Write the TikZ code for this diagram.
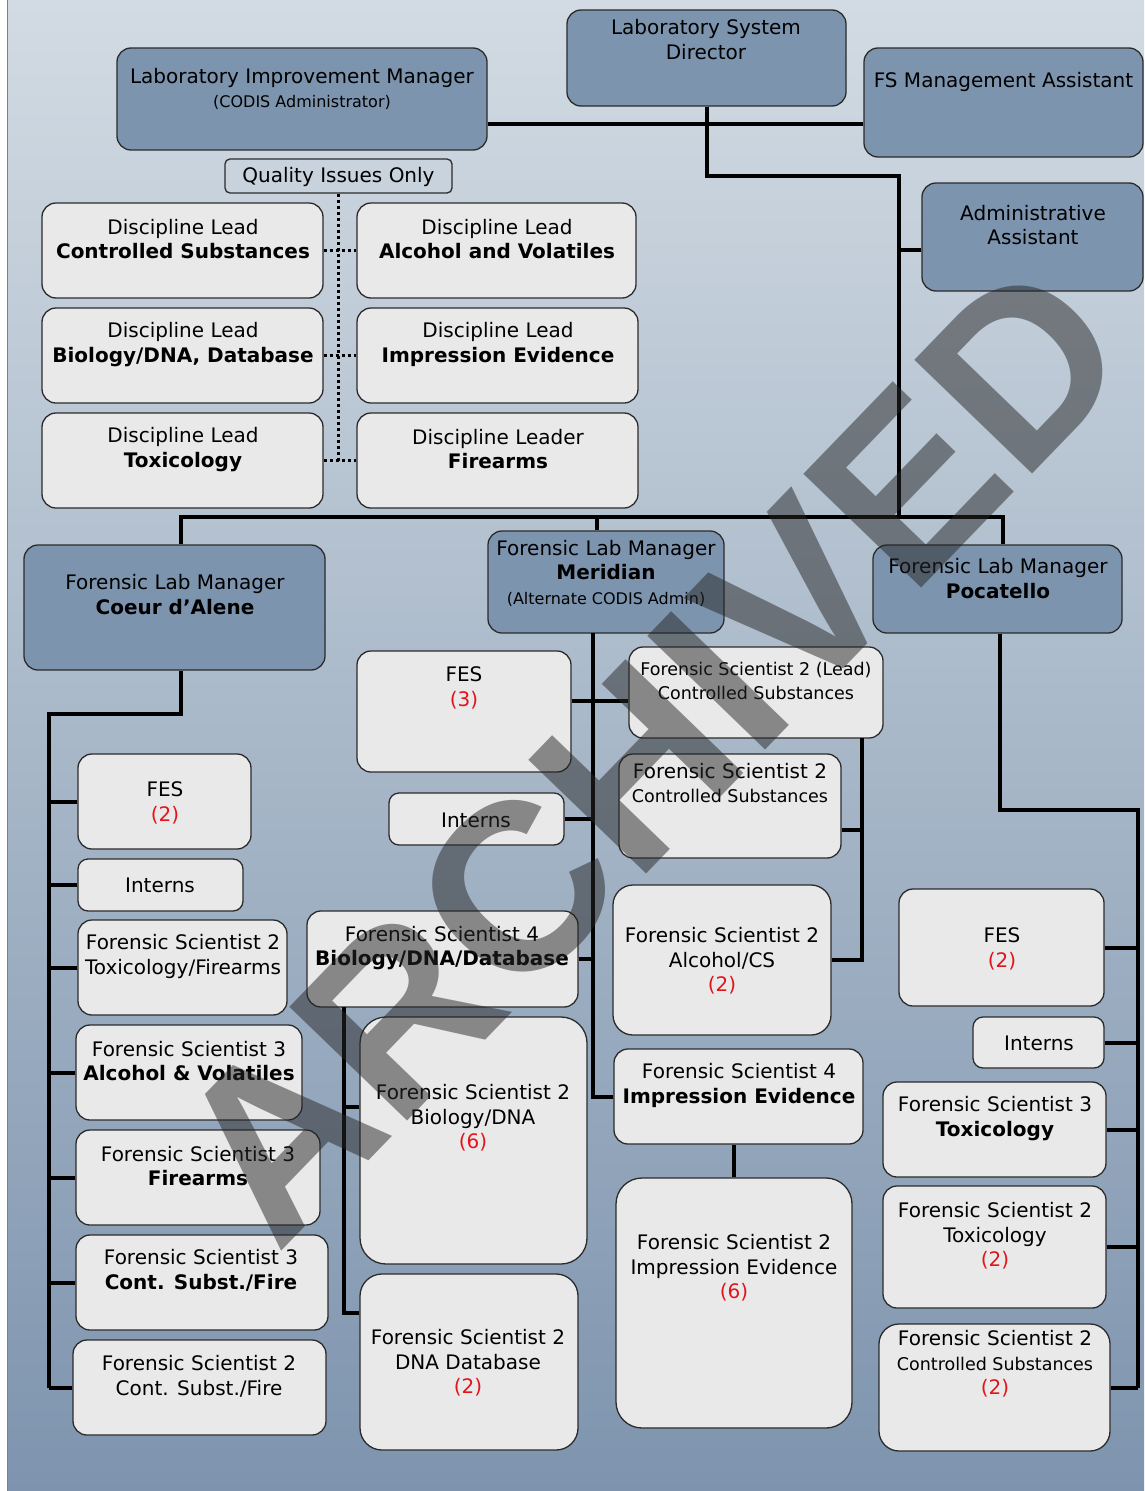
\documentclass[tikz,border=0pt]{standalone}
\usepackage{fontspec}
\setmainfont{DejaVu Sans}
\newfontfamily\wmfont{Liberation Sans}
\usepackage{xcolor}
\usepackage{tikz}

\definecolor{bgtop}{HTML}{D2DBE3}
\definecolor{bgbot}{HTML}{7E94AE}
\definecolor{boxgray}{HTML}{E9E9E9}
\definecolor{mgrblue}{HTML}{7D94AE}
\definecolor{boxline}{HTML}{2B2B2B}
\definecolor{cntred}{HTML}{E3141B}
\newcommand{\cnt}[1]{\textcolor{cntred}{(#1)}}
\newcommand{\sm}{\fontsize{17.5}{22}\selectfont}
\newcommand{\xs}{\fontsize{16}{20}\selectfont}

\begin{document}
\begin{tikzpicture}[x=1pt, y=-1pt,
  lbox/.style={rectangle, draw=boxline, fill=boxgray, rounded corners=14pt, line width=1.3pt, inner sep=0pt},
  mbox/.style={lbox, fill=mgrblue},
  qbox/.style={rectangle, draw=boxline, rounded corners=5pt, line width=1.3pt, inner sep=0pt},
  txt/.style={align=center, inner sep=0pt, font=\fontsize{20}{24.5}\selectfont},
  wire/.style={line width=4pt},
  dots/.style={line width=3.5pt, dash pattern=on 3.5pt off 2.5pt},
  wmark/.style={font=\wmfont\bfseries\fontsize{238}{238}\selectfont, text=black!85, text opacity=0.5, rotate=46}
]
\useasboundingbox (0,0) rectangle (1144,1491);

% Background
\fill[top color=bgtop, bottom color=bgbot] (7,0) rectangle (1144,1491);
\fill[white] (0,0) rectangle (7,1491);
\draw[gray, line width=1pt] (7,0) -- (7,1491);

% Top management
\node[mbox, minimum width=279pt, minimum height=96pt] (dir) at (706.5,58) {};
\node[txt] (dir-t) at (706,39.5) {Laboratory System\\Director};
\node[mbox, minimum width=370pt, minimum height=102pt] (lim) at (302,99) {};
\node[txt] (lim-t) at (302,89) {Laboratory Improvement Manager\\{\xs (CODIS Administrator)}};
\node[mbox, minimum width=279pt, minimum height=109pt] (fsma) at (1003.5,102.5) {};
\node[txt] (fsma-t) at (1003.5,82) {FS Management Assistant};
\node[mbox, minimum width=221pt, minimum height=108pt] (admin) at (1032.5,237) {};
\node[txt] (admin-t) at (1033,225) {Administrative\\Assistant};
\node[qbox, minimum width=227pt, minimum height=34pt] (quality) at (338.5,176) {};
\node[txt] (quality-t) at (338.5,177) {Quality Issues Only};

% Discipline leads
\node[lbox, minimum width=281pt, minimum height=95pt] (dlcs) at (182.5,250.5) {};
\node[txt] (dlcs-t) at (183,239) {Discipline Lead\\\textbf{Controlled Substances}};
\node[lbox, minimum width=279pt, minimum height=95pt] (dlav) at (496.5,250.5) {};
\node[txt] (dlav-t) at (497,239) {Discipline Lead\\\textbf{Alcohol and Volatiles}};
\node[lbox, minimum width=281pt, minimum height=95pt] (dlbio) at (182.5,355.5) {};
\node[txt] (dlbio-t) at (183,344.5) {Discipline Lead\\\textbf{Biology/DNA, Database}};
\node[lbox, minimum width=281pt, minimum height=95pt] (dlie) at (497.5,355.5) {};
\node[txt] (dlie-t) at (498,344.5) {Discipline Lead\\\textbf{Impression Evidence}};
\node[lbox, minimum width=281pt, minimum height=95pt] (dltox) at (182.5,460.5) {};
\node[txt] (dltox-t) at (183,449.5) {Discipline Lead\\\textbf{Toxicology}};
\node[lbox, minimum width=281pt, minimum height=95pt] (dlfa) at (497.5,460.5) {};
\node[txt] (dlfa-t) at (498,449) {Discipline Leader\\\textbf{Firearms}};

% Lab managers
\node[mbox, minimum width=301pt, minimum height=125pt] (mcda) at (174.5,607.5) {};
\node[txt] (mcda-t) at (175,594.5) {Forensic Lab Manager\\\textbf{Coeur d’Alene}};
\node[mbox, minimum width=236pt, minimum height=102pt] (mmer) at (606,582) {};
\node[txt] (mmer-t) at (606,573) {Forensic Lab Manager\\\textbf{Meridian}\\{\xs (Alternate CODIS Admin)}};
\node[mbox, minimum width=249pt, minimum height=88pt] (mpoc) at (997.5,589) {};
\node[txt] (mpoc-t) at (998,578.5) {Forensic Lab Manager\\\textbf{Pocatello}};

% Coeur d'Alene staff
\node[lbox, minimum width=173pt, minimum height=95pt] (cfes) at (164.5,801.5) {};
\node[txt] (cfes-t) at (165,803) {FES\\\cnt{2}};
\node[lbox, minimum width=165pt, minimum height=52pt, rounded corners=10pt] (cint) at (160.5,885) {};
\node[txt] (cint-t) at (160,885) {Interns};
\node[lbox, minimum width=209pt, minimum height=95pt] (cfstf) at (182.5,967.5) {};
\node[txt] (cfstf-t) at (183,956.5) {Forensic Scientist 2\\Toxicology/Firearms};
\node[lbox, minimum width=226pt, minimum height=95pt] (cfsav) at (189,1072.5) {};
\node[txt] (cfsav-t) at (189,1061) {Forensic Scientist 3\\\textbf{Alcohol \& Volatiles}};
\node[lbox, minimum width=244pt, minimum height=95pt] (cfsfa) at (198,1177.5) {};
\node[txt] (cfsfa-t) at (198,1166) {Forensic Scientist 3\\\textbf{Firearms}};
\node[lbox, minimum width=252pt, minimum height=95pt] (cfscf) at (202,1282.5) {};
\node[txt] (cfscf-t) at (201,1270.5) {Forensic Scientist 3\\\textbf{Cont. Subst./Fire}};
\node[lbox, minimum width=253pt, minimum height=95pt] (cfstwo) at (199.5,1387.5) {};
\node[txt] (cfstwo-t) at (199,1376.5) {Forensic Scientist 2\\Cont. Subst./Fire};

% Meridian staff
\node[lbox, minimum width=214pt, minimum height=121pt] (mfes) at (464,711.5) {};
\node[txt] (mfes-t) at (464,688) {FES\\\cnt{3}};
\node[lbox, minimum width=175pt, minimum height=52pt, rounded corners=10pt] (mint) at (476.5,819) {};
\node[txt] (mint-t) at (476,820) {Interns};
\node[lbox, minimum width=254pt, minimum height=91pt] (mlead) at (756,692.5) {};
\node[txt] (mlead-t) at (756,681) {\sm Forensic Scientist 2 (Lead)\\\sm Controlled Substances};
\node[lbox, minimum width=222pt, minimum height=104pt] (mcs) at (730,806) {};
\node[txt] (mcs-t) at (730,783) {Forensic Scientist 2\\{\sm Controlled Substances}};
\node[lbox, minimum width=271pt, minimum height=96pt] (mbiofour) at (442.5,959) {};
\node[txt] (mbiofour-t) at (442,948) {Forensic Scientist 4\\\textbf{Biology/DNA/Database}};
\node[lbox, minimum width=218pt, minimum height=150pt, rounded corners=20pt] (malc) at (722,960) {};
\node[txt] (malc-t) at (722,961) {Forensic Scientist 2\\Alcohol/CS\\\cnt{2}};
\node[lbox, minimum width=249pt, minimum height=95pt] (miefour) at (738.5,1096.5) {};
\node[txt] (miefour-t) at (739,1085.5) {Forensic Scientist 4\\\textbf{Impression Evidence}};
\node[lbox, minimum width=227pt, minimum height=247pt, rounded corners=26pt] (mbiotwo) at (473.5,1140.5) {};
\node[txt] (mbiotwo-t) at (473,1118) {Forensic Scientist 2\\Biology/DNA\\\cnt{6}};
\node[lbox, minimum width=218pt, minimum height=176pt, rounded corners=22pt] (mdna) at (469,1362) {};
\node[txt] (mdna-t) at (468,1363) {Forensic Scientist 2\\DNA Database\\\cnt{2}};
\node[lbox, minimum width=236pt, minimum height=250pt, rounded corners=26pt] (mietwo) at (734,1303) {};
\node[txt] (mietwo-t) at (734,1268) {Forensic Scientist 2\\Impression Evidence\\\cnt{6}};

% Pocatello staff
\node[lbox, minimum width=205pt, minimum height=117pt] (pfes) at (1001.5,947.5) {};
\node[txt] (pfes-t) at (1002,949) {FES\\\cnt{2}};
\node[lbox, minimum width=131pt, minimum height=51pt, rounded corners=10pt] (pint) at (1038.5,1042.5) {};
\node[txt] (pint-t) at (1039,1043) {Interns};
\node[lbox, minimum width=223pt, minimum height=95pt] (pfstox) at (994.5,1129.5) {};
\node[txt] (pfstox-t) at (995,1118.5) {Forensic Scientist 3\\\textbf{Toxicology}};
\node[lbox, minimum width=223pt, minimum height=122pt] (pfstwo) at (994.5,1247) {};
\node[txt] (pfstwo-t) at (995,1236) {Forensic Scientist 2\\Toxicology\\\cnt{2}};
\node[lbox, minimum width=231pt, minimum height=127pt, rounded corners=20pt] (pfscs) at (994.5,1387.5) {};
\node[txt] (pfscs-t) at (995,1364) {Forensic Scientist 2\\{\sm Controlled Substances}\\\cnt{2}};

% Connector corners
\coordinate (hub) at (706,124);
\coordinate (elbow) at (899,176);
\coordinate (busL) at (181,517);
\coordinate (busM) at (597,517);
\coordinate (busR) at (1003,517);
\coordinate (cknee) at (181,714);
\coordinate (cspine) at (49,714);
\coordinate (mspine) at (593,633);
\coordinate (mrow) at (593,701);
\coordinate (lspine) at (862,738);
\coordinate (bspine) at (344,1007);
\coordinate (pknee) at (1000,810);
\coordinate (pspine) at (1138,810);

% Top wires
\draw[wire] (lim.east |- hub) -- (fsma.west |- hub);
\draw[wire] (dir.south) -- (dir.south |- elbow) -- (elbow) -- (elbow |- busR);
\draw[wire] ([yshift=-13pt]admin.west) -- ([yshift=-13pt]admin.west -| elbow);
\draw[wire] (mcda.north -| busL) -- (busL) -- (busR) -- (mpoc.north -| busR);
\draw[wire] (busM) -- (mmer.north -| busM);

% Quality issues (dotted)
\draw[dots] (quality.south) -- (quality.south |- dltox.east);
\draw[dots] (dlcs.east) -- (dlav.west);
\draw[dots] (dlbio.east) -- (dlie.west);
\draw[dots] (dltox.east) -- (dlfa.west);

% Coeur d'Alene wires
\draw[wire] (mcda.south -| cknee) -- (cknee) -- (cspine) -- (cspine |- cfstwo.west);
\foreach \b in {cfes,cint,cfstf,cfsav,cfsfa,cfscf,cfstwo}
  \draw[wire] (\b.west) -- (\b.west -| cspine);

% Meridian wires
\draw[wire] (mspine) -- (mspine |- miefour.west) -- (miefour.west);
\draw[wire] (mfes.east |- mrow) -- (mlead.west |- mrow);
\draw[wire] (mint.east) -- (mint.east -| mspine);
\draw[wire] (mbiofour.east) -- (mbiofour.east -| mspine);
\draw[wire] (lspine) -- (lspine |- malc.east) -- (malc.east);
\draw[wire] (mcs.east |- 0,830) -- (lspine |- 0,830);
\draw[wire] (bspine) -- (bspine |- 0,1313) -- (mdna.west |- 0,1313);
\draw[wire] (bspine |- 0,1107) -- (mbiotwo.west |- 0,1107);
\draw[wire] (mietwo.north) -- (mietwo.north |- miefour.south);

% Pocatello wires
\draw[wire] (mpoc.south -| pknee) -- (pknee) -- (pspine) -- (pspine |- pfscs.east);
\foreach \b in {pfes,pint,pfstox,pfstwo,pfscs}
  \draw[wire] (\b.east) -- (\b.east -| pspine);

% Watermark
\node[wmark] (arch) at (650,752) {ARCHIVED};

\end{tikzpicture}
\end{document}
